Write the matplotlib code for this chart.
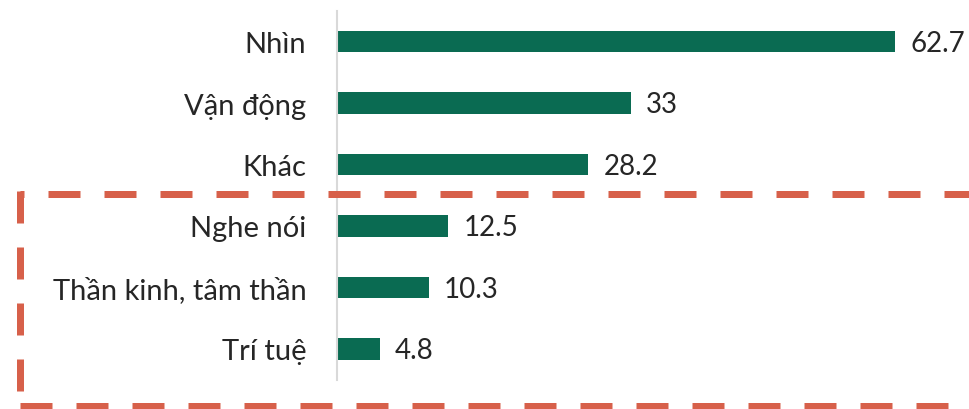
import matplotlib
matplotlib.use("Agg")
import matplotlib.pyplot as plt
from matplotlib.lines import Line2D

categories = ["Nhìn", "Vận động", "Khác", "Nghe nói", "Thần kinh, tâm thần", "Trí tuệ"]
values = [62.7, 33, 28.2, 12.5, 10.3, 4.8]
value_labels = ["62.7", "33", "28.2", "12.5", "10.3", "4.8"]

plt.rcParams['font.family'] = ['Lato', 'DejaVu Sans']
plt.rcParams['lines.scale_dashes'] = False

W, H = 969, 410
fig = plt.figure(figsize=(W / 100, H / 100), dpi=100)
ax_left, ax_right = 337, 960
ax_top, ax_bot = 11.75, 380.75
ax = fig.add_axes([ax_left / W, (H - ax_bot) / H, (ax_right - ax_left) / W, (ax_bot - ax_top) / H])

bar_color = "#0A6B52"
text_color = "#262626"
y = list(range(len(categories)))
ax.barh(y, values, height=0.35, color=bar_color)
ax.set_ylim(len(categories) - 0.5, -0.5)
ax.set_xlim(0, 70)
ax.set_yticks(y)
ax.set_yticklabels(categories, fontsize=21, color=text_color)
ax.tick_params(axis='y', length=0, pad=22)
ax.set_xticks([])
for s in ["top", "right", "bottom"]:
    ax.spines[s].set_visible(False)
ax.spines["left"].set_color("#D9D9D9")
ax.spines["left"].set_linewidth(1.5)

for yi, v, lab in zip(y, values, value_labels):
    ax.annotate(lab, (v, yi), xytext=(11, -1), textcoords="offset points",
                va="center", ha="left", fontsize=20, color=text_color)

# dashed highlight box
red = "#D7604A"
lw_px = 7
lw = lw_px * 0.72
dash = 32 * 0.72
gap = 24 * 0.72

def fx(px):
    return px / W

def fy(py):
    return (H - py) / H

def dline(x0, y0, x1, y1, off_px):
    ln = Line2D([fx(x0), fx(x1)], [fy(y0), fy(y1)], transform=fig.transFigure,
                color=red, linewidth=lw, linestyle=(off_px * 0.72, (dash, gap)),
                solid_capstyle='butt', dash_capstyle='butt')
    fig.add_artist(ln)

dline(20, 195, 1000, 195, 28)   # top
dline(20, 191.5, 20, 406.5, 0)  # left
dline(20, 406.5, 1000, 406.5, 0)  # bottom

fig.savefig("out.png", dpi=100)
